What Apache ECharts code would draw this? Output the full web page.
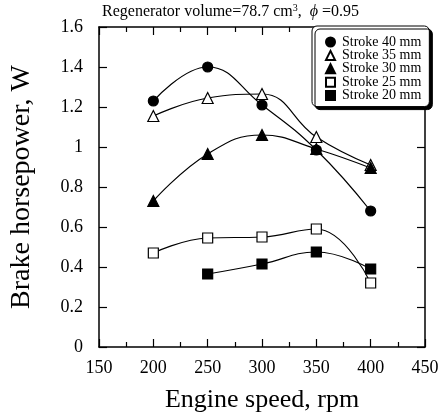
<!DOCTYPE html>
<html>
<head>
<meta charset="utf-8">
<script src="https://cdn.jsdelivr.net/npm/echarts@6/dist/echarts.min.js"></script>
<style>
  html, body { margin: 0; padding: 0; background: #fff; }
  #main { width: 444px; height: 416px; }
</style>
</head>
<body>
<div id="main"></div>
<script>
// engine speed, rpm
var speeds = [200, 250, 300, 350, 400];
// brake horsepower, W (null = no point)
var stroke40 = [1.23, 1.40, 1.21, 0.985, 0.68];
var stroke35 = [1.155, 1.245, 1.265, 1.05, 0.91];
var stroke30 = [0.73, 0.965, 1.06, 0.99, 0.895];
var stroke25 = [0.47, 0.545, 0.55, 0.59, 0.32];
var stroke20 = [null, 0.365, 0.415, 0.475, 0.39];

var seriesNames = ['Stroke 40 mm', 'Stroke 35 mm', 'Stroke 30 mm', 'Stroke 25 mm', 'Stroke 20 mm'];
var seriesData = [stroke40, stroke35, stroke30, stroke25, stroke20];
var symbols = ['circle', 'triangle', 'triangle', 'rect', 'rect'];
var filled = [true, false, true, false, true];

var FONT = '"Liberation Serif", "Times New Roman", serif';

var chart = echarts.init(document.getElementById('main'));

function pairs(arr) {
    var out = [];
    for (var i = 0; i < speeds.length; i++) {
        if (arr[i] !== null) out.push([speeds[i], arr[i]]);
    }
    return out;
}

var series = seriesNames.map(function (name, i) {
    return {
        name: name,
        type: 'line',
        data: pairs(seriesData[i]),
        smooth: 0.45,
        symbol: symbols[i],
        symbolSize: symbols[i] === 'triangle' ? 11 : 10,
        showAllSymbol: true,
        lineStyle: { color: '#000', width: 1.2 },
        itemStyle: {
            color: filled[i] ? '#000' : '#fff',
            borderColor: '#000',
            borderWidth: 1.2
        },
        z: 3
    };
});

var axisLine = { show: true, onZero: false, lineStyle: { color: '#000', width: 1.5 } };
var tick = { show: true, inside: true, length: 8, lineStyle: { color: '#000', width: 1.2 } };
var minor = { show: true, splitNumber: 2, length: 5, lineStyle: { color: '#000', width: 1.2 } };

var option = {
    backgroundColor: '#fff',
    animation: false,
    title: {
        text: 'Regenerator volume=78.7 cm{sup|3},  {phi|ϕ} =0.95',
        left: 102,
        top: 3,
        padding: 0,
        textStyle: {
            fontFamily: FONT,
            fontSize: 16,
            fontWeight: 'normal',
            color: '#000',
            rich: {
                sup: { fontFamily: FONT, fontSize: 10, verticalAlign: 'top', padding: [0, 0, 8, 0], color: '#000' },
                phi: { fontFamily: FONT, fontSize: 16, fontStyle: 'italic', color: '#000' }
            }
        }
    },
    legend: {
        orient: 'vertical',
        left: 312,
        top: 26,
        width: 116,
        padding: [9, 8, 4, 13],
        itemGap: -0.6,
        itemWidth: 9,
        itemHeight: 9,
        backgroundColor: '#fff',
        borderColor: '#000',
        borderWidth: 1,
        borderRadius: 5,
        shadowColor: '#000',
        shadowBlur: 0,
        shadowOffsetX: 3,
        shadowOffsetY: 3,
        textStyle: { fontFamily: FONT, fontSize: 14, color: '#000', padding: [0, 0, 0, 2] },
        data: seriesNames.map(function (n, i) {
            return { name: n, icon: symbols[i] };
        }),
        z: 10
    },
    grid: { left: 99, right: 19, top: 27, bottom: 69, outerBoundsMode: 'none', containLabel: false },
    xAxis: [{
        type: 'value',
        min: 150,
        max: 450,
        interval: 50,
        name: 'Engine speed, rpm',
        nameLocation: 'middle',
        nameGap: 40,
        nameTextStyle: { fontFamily: FONT, fontSize: 26, color: '#000' },
        axisLine: axisLine,
        axisTick: tick,
        minorTick: minor,
        axisLabel: { fontFamily: FONT, fontSize: 18, color: '#000', margin: 12 },
        splitLine: { show: false }
    }, {
        type: 'value',
        position: 'top',
        min: 150,
        max: 450,
        interval: 50,
        axisLine: axisLine,
        axisTick: tick,
        minorTick: minor,
        axisLabel: { show: false },
        splitLine: { show: false }
    }],
    yAxis: [{
        type: 'value',
        min: 0,
        max: 1.6,
        interval: 0.2,
        name: 'Brake horsepower, W',
        nameLocation: 'middle',
        nameGap: 63,
        nameTextStyle: { fontFamily: FONT, fontSize: 28, color: '#000' },
        axisLine: axisLine,
        axisTick: tick,
        axisLabel: { fontFamily: FONT, fontSize: 18, color: '#000', margin: 16 },
        splitLine: { show: false }
    }, {
        type: 'value',
        position: 'right',
        min: 0,
        max: 1.6,
        interval: 0.2,
        axisLine: axisLine,
        axisTick: tick,
        axisLabel: { show: false },
        splitLine: { show: false }
    }],
    series: series
};

chart.setOption(option);
</script>
</body>
</html>
